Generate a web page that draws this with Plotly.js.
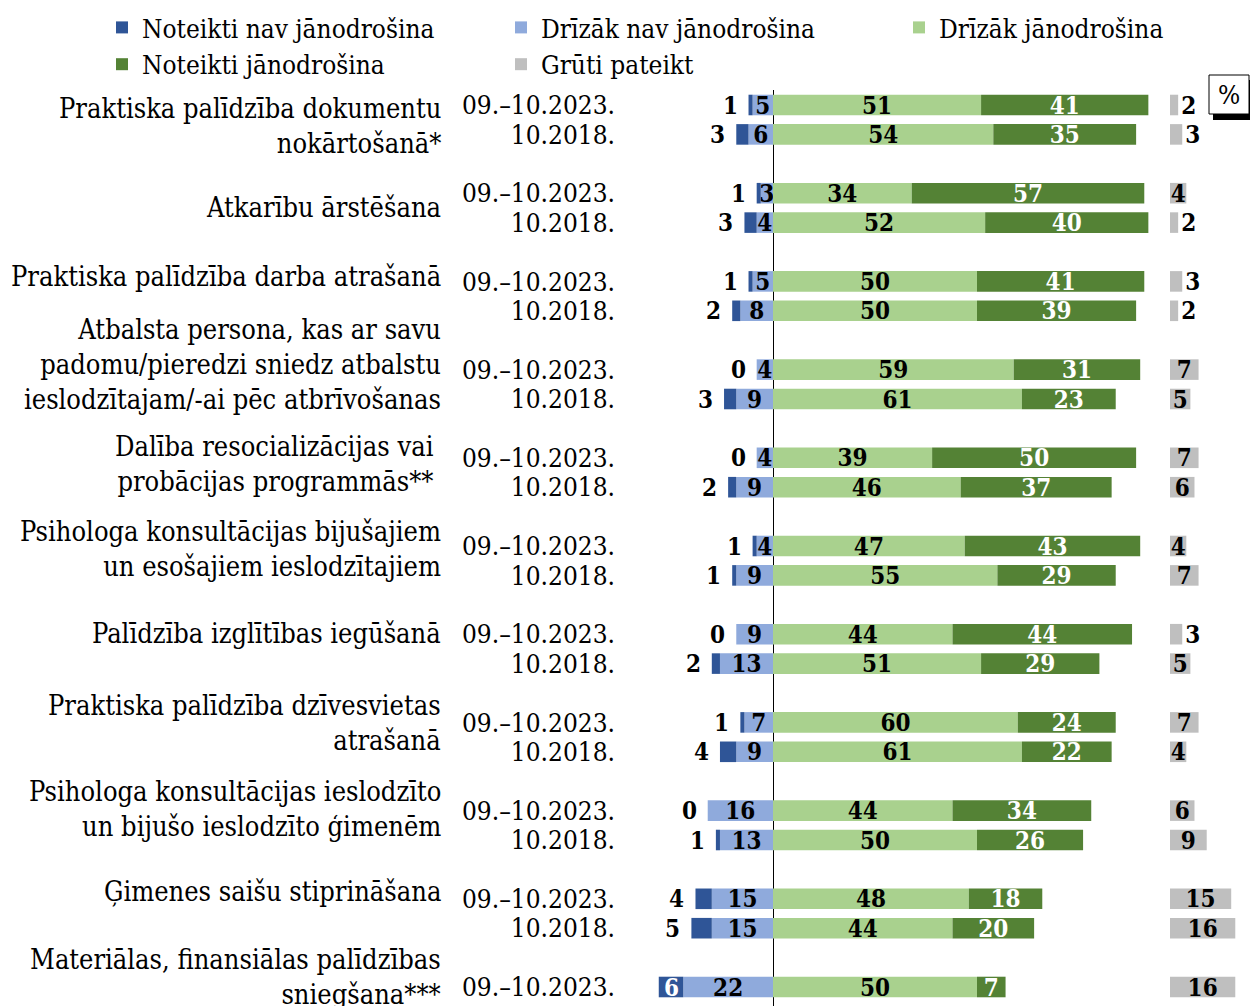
<!DOCTYPE html>
<html><head><meta charset="utf-8">
<script src="https://cdn.plot.ly/plotly-3.0.1.min.js"></script>
<style>html,body{margin:0;padding:0;background:#fff}#chart{width:1250px;height:1006px}</style>
</head><body><div id="chart"></div><script>
// ---- data ----
const categories = [
  "Praktiska palīdzība dokumentu<br>nokārtošanā*",
  "Atkarību ārstēšana",
  "Praktiska palīdzība darba atrašanā",
  "Atbalsta persona, kas ar savu<br>padomu/pieredzi sniedz atbalstu<br>ieslodzītajam/-ai pēc atbrīvošanas",
  "Dalība resocializācijas vai <br>probācijas programmās** ",
  "Psihologa konsultācijas bijušajiem<br>un esošajiem ieslodzītajiem",
  "Palīdzība izglītības iegūšanā",
  "Praktiska palīdzība dzīvesvietas<br>atrašanā",
  "Psihologa konsultācijas ieslodzīto<br>un bijušo ieslodzīto ģimenēm",
  "Ģimenes saišu stiprināšana",
  "Materiālas, finansiālas palīdzības<br>sniegšana***"
];
const periods = ["09.–10.2023.", "10.2018."];
const seriesNames = ["Noteikti nav jānodrošina", "Drīzāk nav jānodrošina", "Drīzāk jānodrošina", "Noteikti jānodrošina", "Grūti pateikt"];

const defNo2023      = [1, 1, 1, 0, 0, 1, 0, 1, 0, 4, 6];
const ratherNo2023   = [5, 3, 5, 4, 4, 4, 9, 7, 16, 15, 22];
const ratherYes2023  = [51, 34, 50, 59, 39, 47, 44, 60, 44, 48, 50];
const defYes2023     = [41, 57, 41, 31, 50, 43, 44, 24, 34, 18, 7];
const hardToSay2023  = [2, 4, 3, 7, 7, 4, 3, 7, 6, 15, 16];

const defNo2018      = [3, 3, 2, 3, 2, 1, 2, 4, 1, 5, null];
const ratherNo2018   = [6, 4, 8, 9, 9, 9, 13, 9, 13, 15, null];
const ratherYes2018  = [54, 52, 50, 61, 46, 55, 51, 61, 50, 44, null];
const defYes2018     = [35, 40, 39, 23, 37, 29, 29, 22, 26, 20, null];
const hardToSay2018  = [3, 2, 2, 5, 6, 7, 5, 4, 9, 16, null];

// ---- layout config ----
const W = 1250, H = 1006, ML = 620, MR = 10, MT = 90, MB = 0;
const PW = W - ML - MR, PH = H - MT - MB;
const px2x = p => (p - ML) / PW;
const px2y = p => (H - MB - p) / PH;
const labelNudge = [-6, 0, 20, 20, 9, 12, 15, 14, 16, 22, 25]; // vertical nudge of category labels (px, up)
const colors = ["#2F5597", "#8FAADC", "#A9D18E", "#548235", "#BFBFBF"];
const FONT = "'DejaVu Serif Condensed', 'Liberation Serif', serif";
const TXT = 26;
const pxPerUnit = 4.08;

// ---- rows ----
const rows = [];
categories.forEach((c, g) => {
  rows.push({slot: 3 * g, per: periods[0], v: [defNo2023[g], ratherNo2023[g], ratherYes2023[g], defYes2023[g], hardToSay2023[g]]});
  if (defNo2018[g] !== null) rows.push({slot: 3 * g + 1, per: periods[1], v: [defNo2018[g], ratherNo2018[g], ratherYes2018[g], defYes2018[g], hardToSay2018[g]]});
});
const ys = rows.map(r => r.slot);
const col = k => rows.map(r => r.v[k]);

const bold = (color) => ({family: FONT, size: 24, color: color, weight: "bold"});
const common = {type: "bar", orientation: "h", y: ys, width: 0.7, constraintext: "none", textangle: 0, cliponaxis: false, hoverinfo: "x+y+name", marker: {line: {width: 0}}};

const traces = [
  Object.assign({}, common, {name: seriesNames[1], legend: "legend2", legendrank: 1, x: col(1).map(v => -v), marker: {color: colors[1]},
    text: col(1).map(String), textposition: "inside", insidetextanchor: "middle", insidetextfont: bold("#000")}),
  Object.assign({}, common, {name: seriesNames[0], legend: "legend", legendrank: 1, x: col(0).map(v => -v), marker: {color: colors[0]}}),
  Object.assign({}, common, {name: seriesNames[2], legend: "legend3", legendrank: 1, x: col(2), marker: {color: colors[2]},
    text: col(2).map(String), textposition: "inside", insidetextanchor: "middle", insidetextfont: bold("#000")}),
  Object.assign({}, common, {name: seriesNames[3], legend: "legend", legendrank: 2, x: col(3), marker: {color: colors[3]},
    text: col(3).map(String), textposition: "inside", insidetextanchor: "middle", insidetextfont: bold("#fff")}),
  Object.assign({}, common, {name: seriesNames[4], legend: "legend2", legendrank: 2, x: col(4), xaxis: "x2", marker: {color: colors[4]},
    text: col(4).map(String), textposition: "auto", insidetextanchor: "middle", insidetextfont: bold("#000"), outsidetextfont: bold("#000")})
];

const annotations = [];
// dark blue labels
rows.forEach(r => {
  const db = r.v[0], lb = r.v[1];
  if (db >= 6) {
    annotations.push({xref: "x", yref: "y", x: -(lb + db / 2), y: r.slot, text: String(db), showarrow: false, xanchor: "center", font: bold("#fff")});
  } else {
    annotations.push({xref: "x", yref: "y", x: -(lb + db), y: r.slot, text: String(db), showarrow: false, xanchor: "right", xshift: -9, font: bold("#000")});
  }
});
// category labels
categories.forEach((c, g) => {
  annotations.push({xref: "paper", yref: "y", x: px2x(443), y: 3 * g + 0.5, yshift: labelNudge[g], text: c, showarrow: false,
    xanchor: "right", yanchor: "middle", align: "right", font: {family: FONT, size: 27, color: "#000"}});
});
// percent box
annotations.push({xref: "paper", yref: "paper", x: px2x(1228.5), y: px2y(95), text: "%", showarrow: false, xanchor: "center", yanchor: "middle", font: {family: FONT, size: TXT, color: "#000"}});

const shapes = [
  {type: "rect", xref: "paper", yref: "paper", x0: px2x(1213), x1: px2x(1256), y0: px2y(80), y1: px2y(120), fillcolor: "#000", line: {width: 0}, layer: "above"},
  {type: "rect", xref: "paper", yref: "paper", x0: px2x(1209), x1: px2x(1249), y0: px2y(75), y1: px2y(114), fillcolor: "#fff", line: {color: "#000", width: 1}, layer: "above"}
];

const xMin = -(773 - ML) / pxPerUnit;
const d1 = 540 / PW, d2 = 550 / PW;
const xMax = (ML + 540 - 773) / pxPerUnit;
const x2Max = (PW - 550) / pxPerUnit;

const legendBase = {orientation: "v", y: px2y(4), xanchor: "left", yanchor: "top", traceorder: "normal",
  itemwidth: 30, bgcolor: "rgba(0,0,0,0)", tracegroupgap: 0, font: {family: FONT, size: TXT, color: "#000"}};

const layout = {
  width: W, height: H,
  margin: {l: ML, r: MR, t: MT, b: MB, pad: 0},
  paper_bgcolor: "#fff", plot_bgcolor: "#fff",
  barmode: "relative",
  showlegend: true,
  legend: Object.assign({}, legendBase, {x: px2x(102)}),
  legend2: Object.assign({}, legendBase, {x: px2x(501)}),
  legend3: Object.assign({}, legendBase, {x: px2x(899)}),
  xaxis: {domain: [0, d1], range: [xMin, xMax], showticklabels: false, showgrid: false, zeroline: true, zerolinecolor: "#000", zerolinewidth: 1, fixedrange: true},
  xaxis2: {domain: [d2, 1], range: [0, x2Max], anchor: "y", showticklabels: false, showgrid: false, zeroline: false, fixedrange: true},
  yaxis: {range: [(H - MB - 105) / 29.4, -(105 - MT) / 29.4], tickvals: ys, ticktext: rows.map(r => r.per), ticks: "", ticklen: 0,
    ticklabelstandoff: 4, showgrid: false, zeroline: false, showline: false, tickfont: {family: FONT, size: TXT, color: "#000"}, fixedrange: true},
  annotations: annotations,
  shapes: shapes,
  font: {family: FONT, color: "#000"}
};

Plotly.newPlot("chart", traces, layout, {displayModeBar: false, staticPlot: true});
</script></body></html>
